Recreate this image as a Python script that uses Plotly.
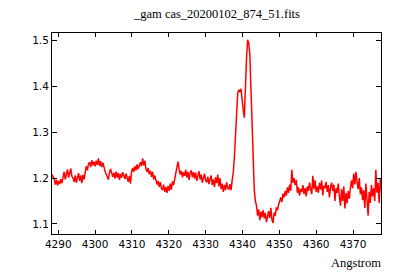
import plotly.graph_objects as go

# Spectrum sampling (like a FITS header: start wavelength and step, Angstrom)
wave_start = 4288.3
wave_step = 0.3

flux = [
    1.208, 1.202, 1.198, 1.186, 1.196, 1.184, 1.194, 1.187, 1.198, 1.189,
    1.206, 1.214, 1.197, 1.210, 1.219, 1.201, 1.213, 1.221, 1.204, 1.200,
    1.192, 1.206, 1.190, 1.203, 1.211, 1.194, 1.206, 1.189, 1.207, 1.197,
    1.212, 1.226, 1.217, 1.231, 1.235, 1.224, 1.239, 1.228, 1.236, 1.226,
    1.238, 1.229, 1.243, 1.227, 1.237, 1.224, 1.234, 1.222, 1.215, 1.209,
    1.202, 1.197, 1.212, 1.220, 1.211, 1.203, 1.212, 1.199, 1.214, 1.201,
    1.211, 1.196, 1.209, 1.201, 1.213, 1.203, 1.198, 1.210, 1.200, 1.192,
    1.205, 1.188, 1.214, 1.222, 1.214, 1.226, 1.217, 1.230, 1.220, 1.228,
    1.235, 1.226, 1.243, 1.228, 1.238, 1.220, 1.214, 1.222, 1.209, 1.216,
    1.203, 1.214, 1.197, 1.206, 1.193, 1.186, 1.194, 1.181, 1.191, 1.178,
    1.174, 1.186, 1.170, 1.181, 1.168, 1.183, 1.172, 1.188, 1.175, 1.193,
    1.185, 1.198, 1.212, 1.228, 1.236, 1.219, 1.208, 1.216, 1.202, 1.213,
    1.205, 1.218, 1.201, 1.214, 1.196, 1.211, 1.217, 1.202, 1.213, 1.199,
    1.212, 1.194, 1.209, 1.215, 1.197, 1.208, 1.190, 1.205, 1.210, 1.195,
    1.191, 1.203, 1.187, 1.198, 1.206, 1.185, 1.197, 1.181, 1.202, 1.189,
    1.208, 1.182, 1.200, 1.176, 1.188, 1.170, 1.185, 1.174, 1.191, 1.178,
    1.176, 1.187, 1.174, 1.195, 1.212, 1.245, 1.290, 1.330, 1.385, 1.393,
    1.388, 1.395, 1.362, 1.350, 1.332, 1.410, 1.462, 1.502, 1.495, 1.470,
    1.400, 1.310, 1.240, 1.175, 1.150, 1.140, 1.118, 1.132, 1.108, 1.127,
    1.115, 1.130, 1.112, 1.124, 1.104, 1.120, 1.128, 1.113, 1.135, 1.109,
    1.102, 1.125, 1.118, 1.136, 1.130, 1.142, 1.150, 1.158, 1.148, 1.166,
    1.158, 1.172, 1.162, 1.180, 1.168, 1.186, 1.172, 1.218, 1.190, 1.200,
    1.185, 1.196, 1.168, 1.180, 1.162, 1.176, 1.170, 1.185, 1.165, 1.178,
    1.160, 1.182, 1.172, 1.190, 1.176, 1.165, 1.205, 1.176, 1.195, 1.170,
    1.182, 1.168, 1.190, 1.175, 1.195, 1.162, 1.184, 1.178, 1.192, 1.170,
    1.185, 1.158, 1.180, 1.190, 1.172, 1.186, 1.150, 1.178, 1.168, 1.188,
    1.160, 1.140, 1.176, 1.150, 1.182, 1.134, 1.168, 1.145, 1.172, 1.155,
    1.180, 1.195, 1.178, 1.210, 1.186, 1.214, 1.192, 1.176, 1.200, 1.165,
    1.180, 1.152, 1.174, 1.135, 1.188, 1.158, 1.118, 1.170, 1.146, 1.185,
    1.160, 1.178, 1.150, 1.218, 1.168, 1.190, 1.145, 1.200, 1.162, 1.150,
]
wavelength = [round(wave_start + i * wave_step, 2) for i in range(len(flux))]

x_ticks = [4290, 4300, 4310, 4320, 4330, 4340, 4350, 4360, 4370]
y_ticks = [1.1, 1.2, 1.3, 1.4, 1.5]
x_range = [4288.3, 4377.6]
y_range = [1.078, 1.517]

title_text = "_gam cas_20200102_874_51.fits"
x_label = "Angstrom"

fig = go.Figure()
fig.add_trace(go.Scatter(
    x=wavelength, y=flux, mode="lines",
    line=dict(color="#ff0000", width=1.5),
    hoverinfo="skip", showlegend=False,
))

tick_font = dict(family="DejaVu Sans", size=10.5, color="black")
axis_common = dict(
    showline=True, linecolor="black", linewidth=1, mirror="ticks",
    ticks="inside", tickcolor="black", tickwidth=1,
    showgrid=False, zeroline=False, tickfont=tick_font,
)
fig.update_xaxes(range=x_range, tickvals=x_ticks, ticklen=4, **axis_common)
fig.update_yaxes(range=y_range, tickvals=y_ticks, ticktext=[f"{v:.1f}" for v in y_ticks],
                 ticklen=5, **axis_common)

fig.update_layout(
    width=400, height=280,
    margin=dict(l=52, r=18.5, t=33, b=46),
    paper_bgcolor="white", plot_bgcolor="white",
    annotations=[
        dict(text=title_text, xref="paper", yref="paper", x=0.5, y=1,
             yshift=19, xanchor="center", yanchor="middle", showarrow=False,
             font=dict(family="Liberation Serif", size=12.5, color="black")),
        dict(text=x_label, xref="paper", yref="paper", x=1, y=0,
             xshift=2, yshift=-29, xanchor="right", yanchor="middle", showarrow=False,
             font=dict(family="Liberation Serif", size=12.5, color="black")),
    ],
)

fig.write_html("out.html", config={"displayModeBar": False},
               post_script="document.body.style.margin='0';")
